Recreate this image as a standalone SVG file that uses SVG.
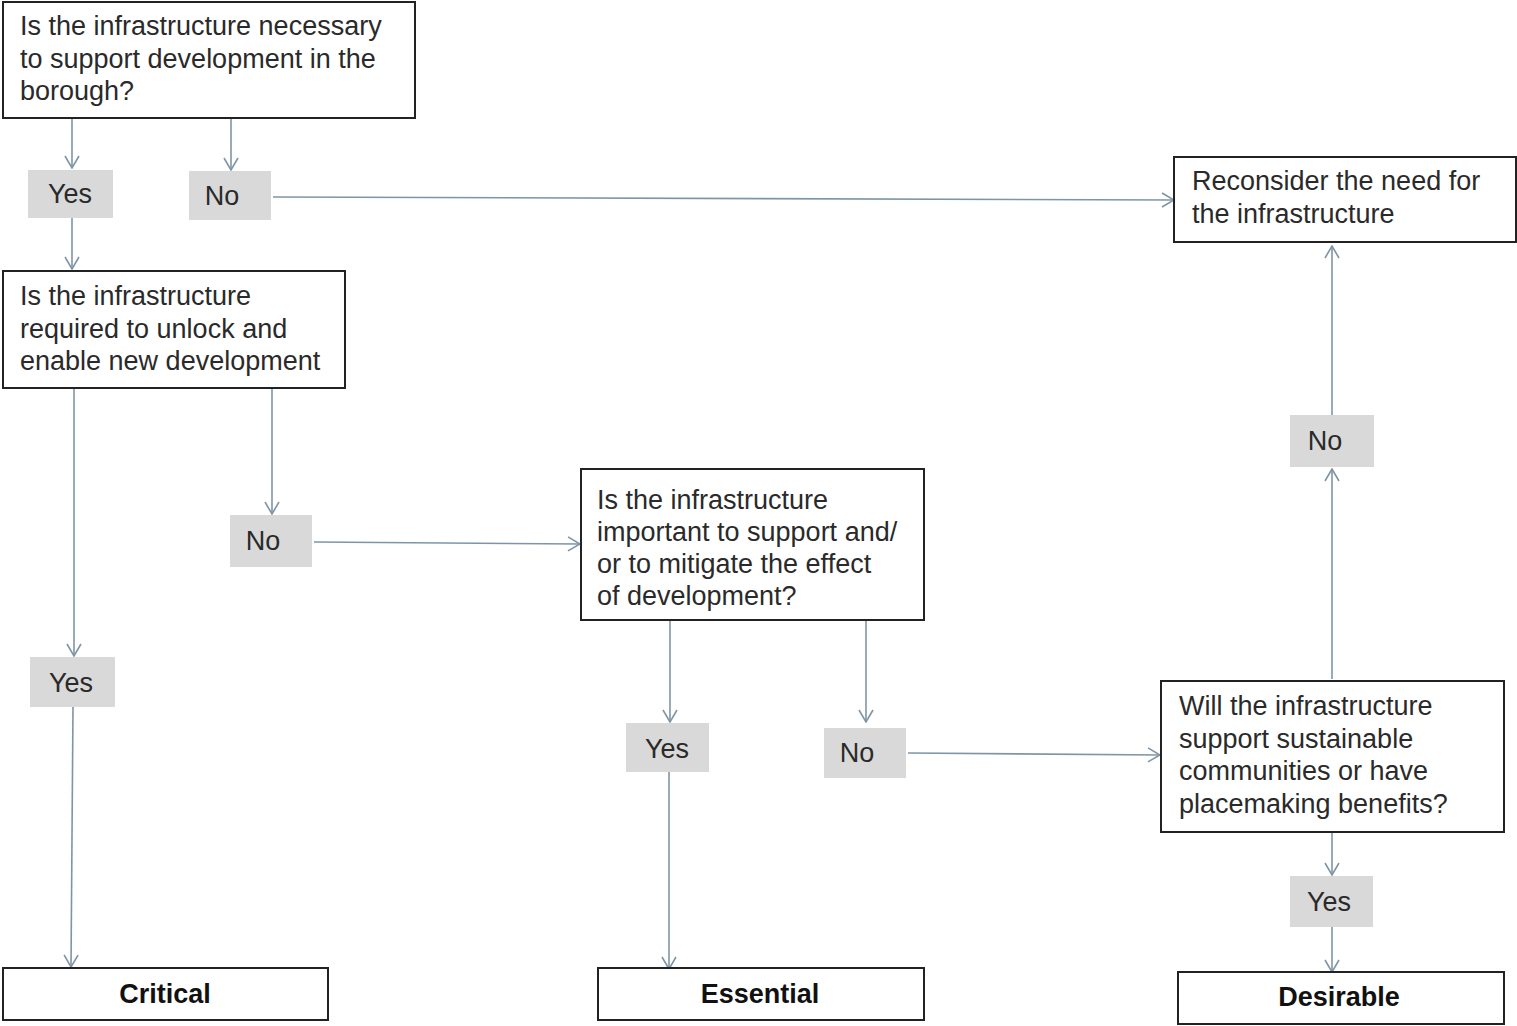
<svg xmlns="http://www.w3.org/2000/svg" width="1517" height="1026" viewBox="0 0 1517 1026">
<style>
.box{fill:#fff;stroke:#222;stroke-width:2}
.lbl{fill:#d9d9d9}
.t{font-family:"Liberation Sans",Arial,sans-serif;font-size:27px;fill:#2a2a2a}
.b{font-family:"Liberation Sans",Arial,sans-serif;font-size:27px;font-weight:bold;fill:#111;text-anchor:middle}
.c{fill:none;stroke:#7f95a6;stroke-width:1.6}
</style>
<defs>
<marker id="ah" viewBox="0 0 14 16" refX="13" refY="8" markerWidth="14" markerHeight="16" markerUnits="userSpaceOnUse" orient="auto">
<path d="M1,1 L13,8 L1,15" fill="none" stroke="#7f95a6" stroke-width="1.6"/>
</marker>
</defs>
<rect width="1517" height="1026" fill="#fff"/>
<g id="connectors" class="c">
<line x1="72" y1="119" x2="72" y2="168" marker-end="url(#ah)"/>
<line x1="231" y1="119" x2="231" y2="170" marker-end="url(#ah)"/>
<line x1="273" y1="197" x2="1174" y2="200" marker-end="url(#ah)"/>
<line x1="72" y1="218" x2="72" y2="269" marker-end="url(#ah)"/>
<line x1="272" y1="389" x2="272" y2="514" marker-end="url(#ah)"/>
<line x1="314" y1="542" x2="580" y2="544" marker-end="url(#ah)"/>
<line x1="74" y1="389" x2="74" y2="656" marker-end="url(#ah)"/>
<line x1="73" y1="707" x2="71" y2="967" marker-end="url(#ah)"/>
<line x1="670" y1="621" x2="670" y2="722" marker-end="url(#ah)"/>
<line x1="669" y1="772" x2="669" y2="969" marker-end="url(#ah)"/>
<line x1="866" y1="621" x2="866" y2="722" marker-end="url(#ah)"/>
<line x1="908" y1="753" x2="1160" y2="755" marker-end="url(#ah)"/>
<line x1="1332" y1="679" x2="1332" y2="469" marker-end="url(#ah)"/>
<line x1="1332" y1="415" x2="1332" y2="246" marker-end="url(#ah)"/>
<line x1="1332" y1="833" x2="1332" y2="875" marker-end="url(#ah)"/>
<line x1="1332" y1="927" x2="1332" y2="972" marker-end="url(#ah)"/>
</g>
<g id="q1"><rect class="box" x="3" y="2" width="412" height="116"/>
<text class="t" x="20" y="35">Is the infrastructure necessary</text>
<text class="t" x="20" y="68">to support development in the</text>
<text class="t" x="20" y="100">borough?</text></g>
<g id="yes1"><rect class="lbl" x="28" y="170" width="85" height="48"/><text class="t" x="70" y="203" text-anchor="middle">Yes</text></g>
<g id="no1"><rect class="lbl" x="189" y="171" width="82" height="49"/><text class="t" x="222" y="205" text-anchor="middle">No</text></g>
<g id="reconsider"><rect class="box" x="1174" y="157" width="342" height="85"/>
<text class="t" x="1192" y="190">Reconsider the need for</text>
<text class="t" x="1192" y="223">the infrastructure</text></g>
<g id="q2"><rect class="box" x="3" y="271" width="342" height="117"/>
<text class="t" x="20" y="305">Is the infrastructure</text>
<text class="t" x="20" y="338">required to unlock and</text>
<text class="t" x="20" y="370">enable new development</text></g>
<g id="no2"><rect class="lbl" x="230" y="515" width="82" height="52"/><text class="t" x="263" y="550" text-anchor="middle">No</text></g>
<g id="yes2"><rect class="lbl" x="30" y="657" width="85" height="50"/><text class="t" x="71" y="692" text-anchor="middle">Yes</text></g>
<g id="q3"><rect class="box" x="581" y="469" width="343" height="151"/>
<text class="t" x="597" y="509">Is the infrastructure</text>
<text class="t" x="597" y="541">important to support and/</text>
<text class="t" x="597" y="573">or to mitigate the effect</text>
<text class="t" x="597" y="605">of development?</text></g>
<g id="yes3"><rect class="lbl" x="626" y="723" width="83" height="49"/><text class="t" x="667" y="758" text-anchor="middle">Yes</text></g>
<g id="no3"><rect class="lbl" x="824" y="728" width="82" height="50"/><text class="t" x="857" y="762" text-anchor="middle">No</text></g>
<g id="q4"><rect class="box" x="1161" y="681" width="343" height="151"/>
<text class="t" x="1179" y="715">Will the infrastructure</text>
<text class="t" x="1179" y="748">support sustainable</text>
<text class="t" x="1179" y="780">communities or have</text>
<text class="t" x="1179" y="813">placemaking benefits?</text></g>
<g id="no4"><rect class="lbl" x="1290" y="415" width="84" height="52"/><text class="t" x="1325" y="450" text-anchor="middle">No</text></g>
<g id="yes4"><rect class="lbl" x="1290" y="876" width="83" height="51"/><text class="t" x="1329" y="911" text-anchor="middle">Yes</text></g>
<g id="critical"><rect class="box" x="3" y="968" width="325" height="52"/><text class="b" x="165" y="1003">Critical</text></g>
<g id="essential"><rect class="box" x="598" y="968" width="326" height="52"/><text class="b" x="760" y="1003">Essential</text></g>
<g id="desirable"><rect class="box" x="1178" y="972" width="326" height="52"/><text class="b" x="1339" y="1006">Desirable</text></g>
</svg>
